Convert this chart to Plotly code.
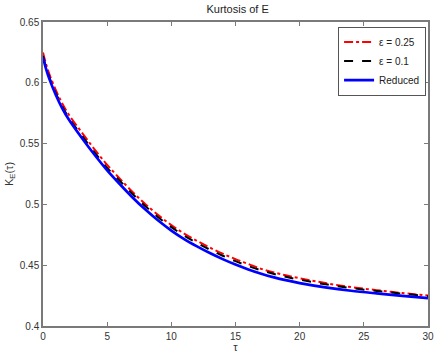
import plotly.graph_objects as go

tau = [0, 0.25, 0.5, 1, 1.5, 2, 3, 4, 5, 6, 7, 8, 9, 10, 11, 12, 13, 14, 15,
       16, 17, 18, 19, 20, 22, 24, 26, 28, 30]

k_eps_025 = [0.625, 0.615, 0.607, 0.594, 0.583, 0.574, 0.5595, 0.5455, 0.5325, 0.521,
             0.510, 0.500, 0.491, 0.483, 0.476, 0.470, 0.4645, 0.4595, 0.455, 0.451,
             0.447, 0.444, 0.4415, 0.4393, 0.4353, 0.432, 0.4295, 0.4271, 0.425]
k_eps_01 = [0.622, 0.6125, 0.6045, 0.5915, 0.5805, 0.5715, 0.557, 0.543, 0.530, 0.5193,
            0.5083, 0.4983, 0.4893, 0.4813, 0.4743, 0.4683, 0.4628, 0.4578, 0.4533, 0.4493,
            0.4458, 0.4428, 0.4403, 0.4381, 0.4343, 0.4312, 0.4288, 0.4266, 0.4245]
k_reduced = [0.621, 0.611, 0.603, 0.590, 0.579, 0.570, 0.555, 0.541, 0.528, 0.5165,
             0.5055, 0.4955, 0.4865, 0.4785, 0.4715, 0.4655, 0.460, 0.455, 0.4505, 0.4465,
             0.443, 0.440, 0.4375, 0.4353, 0.4318, 0.429, 0.4268, 0.4248, 0.423]

x_ticks = [0, 5, 10, 15, 20, 25, 30]
y_ticks = [0.4, 0.45, 0.5, 0.55, 0.6, 0.65]
y_tick_text = ['0.4', '0.45', '0.5', '0.55', '0.6', '0.65']

axis_color = '#7a7a7a'
font = 'Liberation Sans, Arial, sans-serif'

fig = go.Figure()

fig.add_trace(go.Scatter(x=tau, y=k_eps_025, mode='lines', name='ε = 0.25',
                         line=dict(color='#ff0000', width=2, dash='dashdot', shape='spline')))
fig.add_trace(go.Scatter(x=tau, y=k_eps_01, mode='lines', name='ε = 0.1',
                         line=dict(color='#000000', width=2, dash='dash', shape='spline')))
fig.add_trace(go.Scatter(x=tau, y=k_reduced, mode='lines', name='Reduced',
                         line=dict(color='#0000ff', width=2.7, shape='spline')))

axis_common = dict(
    showgrid=False, zeroline=False, showline=True, mirror='ticks',
    linecolor=axis_color, linewidth=1.5, automargin=False,
    ticks='inside', ticklen=4, tickwidth=1, tickcolor=axis_color,
    tickfont=dict(family=font, size=10, color='#333333'),
)

fig.update_xaxes(range=[0, 30], tickvals=x_ticks, **axis_common,
                 title=dict(text='τ', font=dict(family=font, size=11, color='#333333'),
                            standoff=2))
fig.update_yaxes(range=[0.4, 0.65], tickvals=y_ticks, ticktext=y_tick_text, **axis_common,
                 title=dict(text='K<sub>E</sub>(τ)',
                            font=dict(family=font, size=11, color='#333333'), standoff=4))

fig.update_layout(
    width=436, height=353,
    margin=dict(l=43, r=8, t=22, b=27),
    paper_bgcolor='white', plot_bgcolor='white',
    title=dict(text='Kurtosis of E', x=0.545, xanchor='center', y=0.985, yanchor='top',
               font=dict(family=font, size=11, color='#222222')),
    legend=dict(x=0.995, y=0.985, xanchor='right', yanchor='top',
                bgcolor='white', bordercolor='#555555', borderwidth=1,
                font=dict(family=font, size=10, color='#222222'),
                tracegroupgap=0, itemwidth=30),
    showlegend=True,
)

# page body margin would shift the figure by 8px
fig.write_html("out.html", config={'displayModeBar': False},
               post_script="document.body.style.margin='0';")
